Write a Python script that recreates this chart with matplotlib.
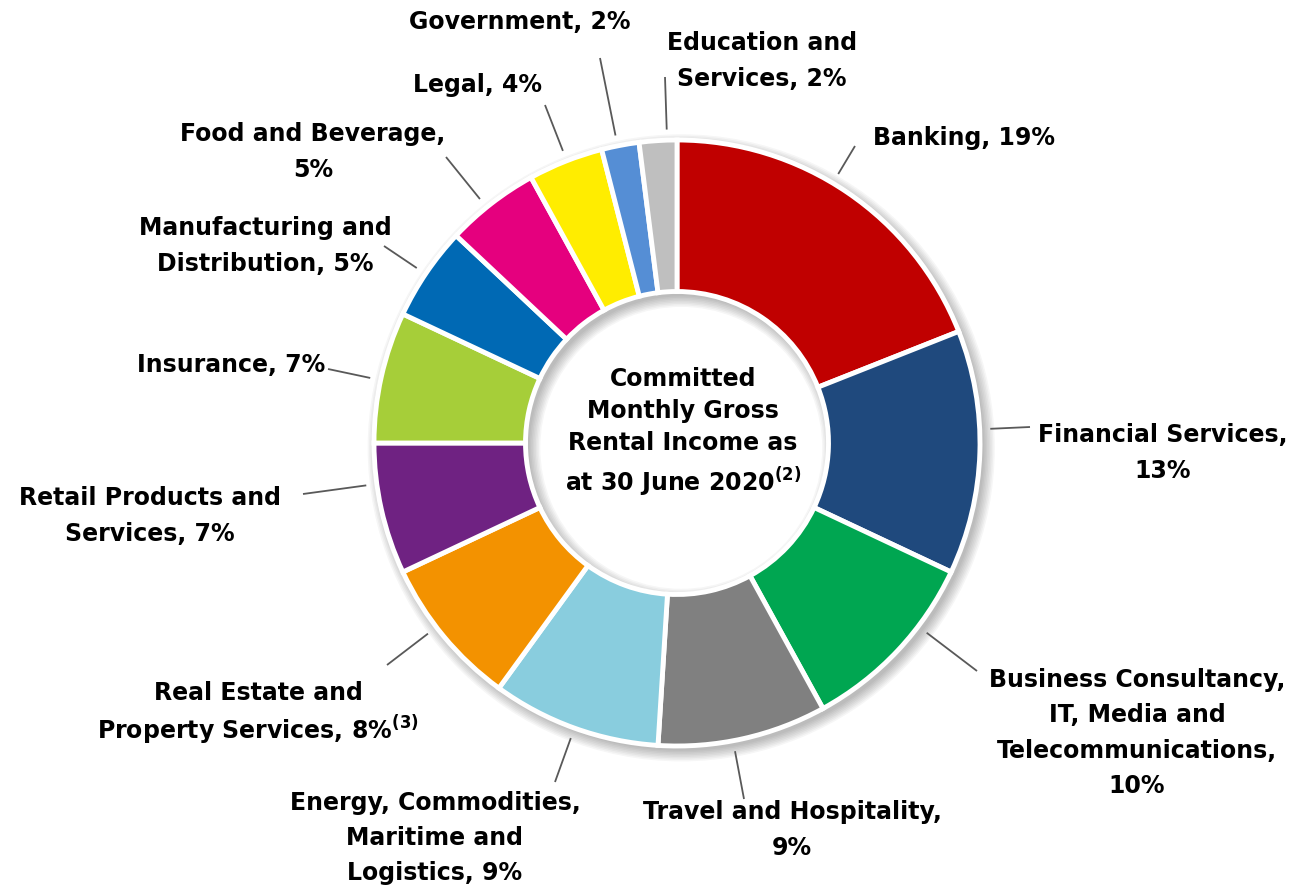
import numpy as np
import matplotlib.pyplot as plt
from matplotlib.patches import Wedge

# ── Data ────────────────────────────────────────────────────────
sectors = ['Banking', 'Financial Services',
           'Business Consultancy,\nIT, Media and\nTelecommunications',
           'Travel and Hospitality',
           'Energy, Commodities,\nMaritime and\nLogistics',
           'Real Estate and\nProperty Services',
           'Retail Products and\nServices',
           'Insurance',
           'Manufacturing and\nDistribution',
           'Food and Beverage',
           'Legal', 'Government',
           'Education and\nServices']
shares = [19, 13, 10, 9, 9, 8, 7, 7, 5, 5, 4, 2, 2]
footnotes = ['', '', '', '', '', '(3)', '', '', '', '', '', '', '']
value_break = [' ', '\n', '\n', '\n', ' ', ' ', ' ', ' ', ' ', '\n', ' ', ' ', ' ']
colors = ['#C00000', '#1F497D', '#00A651', '#808080', '#89CDDE', '#F39200',
          '#6F2282', '#A6CE39', '#0069B4', '#E5007E', '#FFED00', '#558ED5',
          '#BFBFBF']
center_title = 'Committed\nMonthly Gross\nRental Income as\nat 30 June 2020'
center_note = '(2)'

# ── Layout (pixel positions of labels and leader ends) ─────────
W, H = 1302, 888
CX, CY, R = 677, 443, 303
label_pos = [(873, 138, 'left'), (1163, 453, 'center'), (1137, 733, 'center'),
             (792, 830, 'center'), (435, 838, 'center'), (258, 714, 'center'),
             (150, 516, 'center'), (325, 365, 'right'), (265, 246, 'center'),
             (313, 152, 'center'), (478, 85, 'center'), (520, 22, 'center'),
             (762, 61, 'center')]
leader_end = [(855, 146), (1030, 427), (977, 671), (744, 799), (555, 782),
              (387, 665), (303, 494), (328, 369), (384, 246), (446, 157),
              (545, 105), (600, 58), (665, 77)]


def px(x, y):
    return (x - CX) / R, (CY - y) / R


def sup(note):
    return f'$^{{\\mathbf{{{note}}}}}$' if note else ''


fig = plt.figure(figsize=(W / 100, H / 100), dpi=100)
fig.patch.set_facecolor('white')
ax = fig.add_axes([0, 0, 1, 1])

# soft drop shadow under the ring
for k in range(8):
    ax.add_patch(Wedge((0.014, -0.016), 1.0 + 0.005 * k, 0, 360,
                       width=0.5 + 0.010 * k, facecolor='black',
                       edgecolor='none', alpha=0.035, zorder=0))

wedges, _ = ax.pie(shares, colors=colors, startangle=90, counterclock=False,
                   radius=1.0, center=(0, 0), frame=True,
                   wedgeprops={'width': 0.5, 'edgecolor': 'white',
                               'linewidth': 3.5})
ax.set_xlim(-CX / R, (W - CX) / R)
ax.set_ylim(-(H - CY) / R, CY / R)
ax.set_aspect('auto')
ax.axis('off')

font = {'family': 'DejaVu Sans', 'weight': 'bold', 'size': 17}

for name, val, fn, brk, (lx, ly, ha), (ex, ey) in zip(
        sectors, shares, footnotes, value_break, label_pos, leader_end):
    text = f'{name},{brk}{val}%' + sup(fn)
    tx, ty = px(lx, ly)
    ax.text(tx, ty, text, ha=ha, va='center', multialignment='center',
            color='black', linespacing=1.6 if not fn else 1.35, **font)
    exd, eyd = px(ex, ey)
    ang = np.arctan2(eyd, exd)
    sx, sy = 1.035 * np.cos(ang), 1.035 * np.sin(ang)
    ax.plot([sx, exd], [sy, eyd], color='#595959', lw=1.3,
            solid_capstyle='butt', zorder=3)

cx, cy = px(683, 433)
ax.text(cx, cy, center_title + sup(center_note), ha='center', va='center',
        multialignment='center', linespacing=1.42, **font)

fig.savefig('out.png', dpi=100, facecolor='white')
